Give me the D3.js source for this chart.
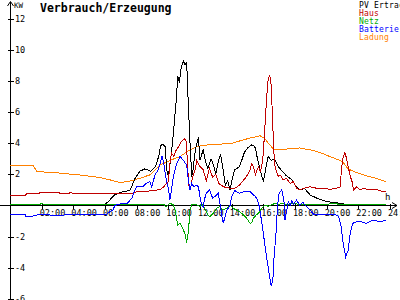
<!DOCTYPE html>
<html>
<head>
<meta charset="utf-8">
<script src="https://cdn.jsdelivr.net/npm/d3@7/dist/d3.min.js"></script>
<style>
  body { margin: 0; background: #fff; }
  svg { display: block; }
  text { font-family: "DejaVu Sans Mono", monospace; }
</style>
</head>
<body>
<div id="chart"></div>
<script>
var width = 400,
    height = 300;

// series: [stunde, kW]
var pvErtrag = [[0,0],[5.9,0],[6.0,0.05],[6.3,0.35],[6.6,0.68],[7.0,0.85],[7.3,0.9],[7.6,1.0],[7.9,1.75],[8.2,2.2],
  [8.5,2.35],[8.7,2.3],[8.9,2.2],[9.2,2.5],[9.4,3.2],[9.5,3.8],[9.6,3.97],[9.8,3.8],[9.9,2.3],[10.0,1.86],
  [10.2,3.4],[10.35,5.0],[10.5,6.8],[10.6,8.3],[10.7,7.9],[10.8,8.8],[10.95,9.3],[11.05,9.06],[11.16,9.2],[11.25,6.8],
  [11.37,4.0],[11.48,1.86],[11.56,2.3],[11.7,3.5],[11.8,4.0],[11.9,4.4],[12.0,2.9],[12.2,3.6],[12.35,2.8],[12.5,2.4],
  [12.7,3.0],[12.85,2.6],[13.0,2.0],[13.15,2.8],[13.3,3.3],[13.45,2.4],[13.6,1.3],[13.75,1.6],[13.9,1.0],[14.05,1.8],
  [14.2,2.3],[14.5,2.5],[14.8,3.4],[15.0,3.7],[15.27,3.9],[15.4,3.85],[15.5,3.7],[15.6,3.15],[15.8,2.3],[16.0,1.54],
  [16.1,2.08],[16.3,3.15],[16.5,2.9],[16.7,3.0],[16.95,2.5],[17.2,2.2],[17.4,1.97],[17.6,1.8],[17.8,1.65],[18.0,1.32],
  [18.3,1.0],[18.6,1.1],[18.95,0.68],[19.4,0.46],[20.0,0.25],[20.85,0.14],[21.5,0],[23.75,0]];

var haus = [[0,0.63],[0.95,0.63],[1.05,0.74],[1.8,0.74],[1.9,0.83],[3.1,0.83],[3.2,0.74],[3.7,0.74],[3.8,0.83],[4.1,0.74],
  [5.0,0.79],[6.0,0.79],[6.3,0.74],[7.0,0.74],[7.8,0.79],[8.0,0.9],[9.0,0.94],[9.3,1.0],[9.5,1.04],[9.7,1.2],
  [9.9,1.43],[10.0,1.54],[10.1,2.7],[10.2,3.37],[10.35,3.15],[10.5,3.58],[10.6,3.7],[10.75,4.0],[10.9,4.2],[11.05,4.3],
  [11.15,4.1],[11.2,2.7],[11.3,1.3],[11.4,1.1],[11.54,1.86],[11.7,2.3],[11.8,2.9],[12.0,2.5],[12.2,2.3],[12.4,1.6],
  [12.6,2.4],[12.8,1.8],[13.0,2.0],[13.2,1.4],[13.5,1.2],[13.9,1.1],[14.2,1.1],[14.5,1.32],[14.85,1.75],[15.0,1.97],
  [15.16,2.3],[15.27,2.7],[15.37,2.5],[15.5,1.97],[15.6,2.3],[15.7,2.5],[15.8,2.2],[15.9,2.5],[16.0,3.37],[16.1,5.1],
  [16.2,6.8],[16.3,8.1],[16.4,8.4],[16.5,7.7],[16.6,5.1],[16.7,2.7],[16.8,2.3],[16.95,1.86],[17.06,1.97],[17.25,1.65],
  [17.45,1.75],[17.7,1.43],[17.9,1.54],[18.1,1.1],[18.3,1.0],[18.5,1.1],[18.95,1.2],[19.4,1.1],[19.8,1.1],[20.2,1.04],
  [20.6,1.1],[20.85,1.2],[20.95,2.5],[21.05,3.15],[21.15,3.4],[21.25,3.05],[21.4,2.3],[21.5,1.86],[21.6,1.54],[21.7,1.0],
  [21.9,1.2],[22.1,1.0],[22.3,1.1],[22.7,1.0],[23.1,1.04],[23.5,0.9],[23.75,0.9]];

var netz = [[0,0.08],[1.9,0.08],[2.0,0.15],[2.1,0.08],[9.7,0.08],[9.85,-0.08],[10.0,0.05],[10.1,0.14],[10.3,0.05],[10.4,-0.18],
  [10.5,-0.72],[10.6,-1.26],[10.74,-1.15],[10.85,-1.37],[10.95,-1.58],[11.05,-1.8],[11.16,-2.44],[11.2,-2.0],[11.26,-1.8],[11.37,-0.29],
  [11.48,0.05],[11.8,0.05],[12.0,-0.08],[12.1,0.14],[12.3,-0.18],[12.5,-0.61],[12.63,-0.72],[12.85,-0.5],[13.05,-0.18],[13.26,-0.08],
  [13.47,-0.29],[13.7,-0.18],[13.9,0.03],[14.1,-0.18],[14.3,-0.29],[14.5,-0.4],[14.75,-0.61],[14.95,-0.83],[15.16,-1.15],[15.27,-1.1],
  [15.37,-0.83],[15.55,-0.61],[15.7,-0.5],[15.9,-0.18],[16.1,0.03],[16.3,-0.05],[16.5,0.03],[16.75,0.14],[16.95,0.05],[17.16,0.14],
  [17.5,0.05],[17.9,0.14],[18.3,0.05],[19.0,0.08],[20.0,0.08],[20.5,0.12],[21.0,0.05],[22.0,0.08],[23.75,0.08]];

var batterie = [[0,-0.57],[0.95,-0.57],[1.0,-0.68],[1.45,-0.68],[1.7,-0.61],[2.5,-0.61],[3.16,-0.68],[3.6,-0.55],[4.1,-0.61],[4.85,-0.57],
  [5.5,-0.61],[6.1,-0.57],[6.3,-0.4],[6.5,-0.29],[6.63,0],[6.95,0.1],[7.4,0.14],[7.7,0.46],[7.85,0.9],[8.0,1.2],
  [8.4,1.2],[8.6,1.43],[8.84,1.54],[8.95,1.2],[9.16,1.97],[9.37,2.3],[9.6,3.15],[9.7,2.8],[9.8,2.08],[9.9,1.54],
  [10.0,1.1],[10.1,0.35],[10.2,1.0],[10.3,1.75],[10.5,2.6],[10.74,3.15],[10.95,2.9],[11.16,2.6],[11.26,1.65],[11.37,1.0],
  [11.48,1.43],[11.6,1.2],[11.8,1.32],[11.9,1.2],[12.0,0.57],[12.1,0],[12.2,-0.1],[12.3,0.46],[12.4,0.79],[12.6,1.0],
  [12.8,0.46],[13.05,0.68],[13.15,0.79],[13.26,0.14],[13.37,-0.61],[13.47,-1.15],[13.58,-0.72],[13.7,-0.29],[13.9,0],[14.0,0.57],
  [14.1,0.79],[14.2,0.95],[14.5,0.79],[14.85,0.9],[15.16,0.9],[15.37,0.68],[15.5,0.57],[15.6,0.4],[15.7,0.14],[15.8,-0.4],
  [16.0,-1.8],[16.2,-3.3],[16.4,-4.6],[16.5,-5.2],[16.6,-4.8],[16.68,-3.3],[16.8,-1.8],[16.9,0],[17.0,0.79],[17.16,1.0],
  [17.3,0.35],[17.37,-0.94],[17.48,-0.29],[17.58,0.25],[17.7,0],[17.8,0.3],[17.9,0.05],[18.1,0.35],[18.3,0],[18.5,0.2],
  [18.7,-0.05],[18.95,-0.29],[19.2,-0.6],[19.6,-0.55],[20.0,-0.6],[20.5,-0.55],[20.75,-0.7],[20.9,-1.26],[21.05,-2.5],[21.2,-3.3],
  [21.35,-2.9],[21.5,-1.7],[21.65,-1.15],[22.0,-1.0],[22.5,-1.15],[22.9,-0.94],[23.4,-1.04],[23.75,-0.95]];

var ladung = [[0,2.6],[1.45,2.6],[1.7,2.18],[3.0,2.1],[4.5,1.95],[5.7,1.8],[6.5,1.6],[6.95,1.47],[7.5,1.55],[8.2,1.75],
  [8.84,1.97],[9.48,2.6],[10.1,2.9],[10.74,3.15],[11.37,3.58],[11.8,3.8],[12.5,3.9],[13.2,3.95],[13.9,3.97],[14.5,4.15],
  [15.16,4.34],[15.8,4.48],[16.1,4.3],[16.4,3.9],[16.7,3.58],[17.06,3.6],[17.7,3.65],[18.3,3.7],[19.1,3.55],[19.6,3.4],
  [20.2,3.15],[21.0,2.83],[21.35,2.35],[21.8,2.15],[22.3,1.97],[23.1,1.75],[23.75,1.54]];

var legendNames = ["PV Ertrag", "Haus", "Netz", "Batterie", "Ladung"];
var legendColors = ["#000000", "#c00000", "#00a800", "#0000ff", "#ff8000"];
var yTicks = [12, 10, 8, 6, 4, 2, -2, -4, -6];
var xTicks = [2, 4, 6, 8, 10, 12, 14, 16, 18, 20, 22, 24];

var svg = d3.select("#chart")
    .append("svg")
    .attr("width", width)
    .attr("height", height);

var x = d3.scaleLinear().domain([0, 24]).range([10, 390]);
var y = d3.scaleLinear().domain([-6, 12]).range([298.7, 19]);
function px(v) { return Math.round(v) + 0.5; }

var x0 = px(x(0)), y0 = px(y(0));

// achsen
var axes = svg.append("g")
    .attr("stroke", "#000")
    .attr("shape-rendering", "crispEdges");

axes.append("line").attr("x1", x0).attr("x2", x0).attr("y1", 2).attr("y2", height);
axes.append("path").attr("fill", "none").attr("shape-rendering", "auto")
    .attr("d", "M" + (x0 - 3) + ",6 L" + x0 + ",1.5 L" + (x0 + 3) + ",6");
axes.append("line").attr("x1", 0).attr("x2", 397).attr("y1", y0).attr("y2", y0);
axes.append("path").attr("fill", "none").attr("shape-rendering", "auto")
    .attr("d", "M392," + (y0 - 3) + " L397," + y0 + " L392," + (y0 + 3));

axes.selectAll(".ytick")
    .data(yTicks)
    .enter().append("line")
    .attr("x1", x0 - 3).attr("x2", x0 + 3)
    .attr("y1", function(d) { return px(y(d)); })
    .attr("y2", function(d) { return px(y(d)); });

axes.selectAll(".xtick")
    .data(xTicks)
    .enter().append("line")
    .attr("x1", function(d) { return px(x(d)); })
    .attr("x2", function(d) { return px(x(d)); })
    .attr("y1", y0 - 2).attr("y2", y0 + 3);

svg.selectAll(".ylabel")
    .data(yTicks)
    .enter().append("text")
    .attr("x", 15)
    .attr("y", function(d) { return y(d) + 3; })
    .style("font-size", "8.5px")
    .text(function(d) { return d; });

svg.selectAll(".xlabel")
    .data(xTicks)
    .enter().append("text")
    .attr("x", function(d) { return x(d) - 2; })
    .attr("y", y0 + 10)
    .style("font-size", "8.5px")
    .text(function(d) { return (d < 10 ? "0" : "") + d + ":00"; });

svg.append("text").attr("x", 14).attr("y", 8).style("font-size", "7.5px").text("KW");
svg.append("text").attr("x", 385).attr("y", 200).style("font-size", "9px").text("h");

svg.append("text")
    .attr("x", 40).attr("y", 12)
    .style("font-size", "11.5px")
    .style("font-weight", "bold")
    .text("Verbrauch/Erzeugung");

// linien
var line = d3.line()
    .x(function(d) { return x(d[0]); })
    .y(function(d) { return y(d[1]); });

var series = [ladung, pvErtrag, haus, netz, batterie];
var seriesColors = [legendColors[4], legendColors[0], legendColors[1], legendColors[2], legendColors[3]];

svg.selectAll(".serie")
    .data(series)
    .enter().append("path")
    .attr("class", "serie")
    .attr("d", line)
    .attr("fill", "none")
    .attr("stroke-width", 1)
    .attr("shape-rendering", "crispEdges")
    .attr("stroke", function(d, i) { return seriesColors[i]; });

// legende
svg.selectAll(".legend")
    .data(legendNames)
    .enter().append("text")
    .attr("x", 359)
    .attr("y", function(d, i) { return 7.5 + i * 8; })
    .attr("fill", function(d, i) { return legendColors[i]; })
    .style("font-size", "8px")
    .style("letter-spacing", "0.2px")
    .text(function(d) { return d; });
</script>
</body>
</html>
